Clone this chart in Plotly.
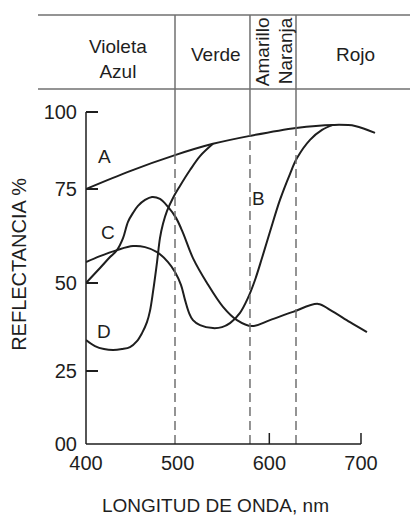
import numpy as np
import plotly.graph_objects as go

# ---------------- data ----------------
# wavelength (nm) / reflectance (%)
wl_A = [400, 448, 497.1, 538.5, 578.9, 629.1, 669.5, 693.5, 715.3]
ref_A = [76.8, 82.2, 87.0, 90.4, 92.8, 95.2, 96.1, 95.8, 93.7]

wl_B = [400, 415.3, 433.8, 451.3, 464.4, 477.5, 489.5, 497.1, 503.6, 508.0, 512.4,
        516.7, 524.4, 538.5, 548.4, 557.1, 568.0, 576.7, 584.4, 592.0, 600.7, 611.6,
        622.5, 630.2, 644.4, 657.5, 669.5]
ref_B = [54.8, 56.6, 58.4, 59.6, 59.3, 57.8, 54.8, 51.8, 47.9, 43.4, 39.5,
         37.3, 35.8, 34.9, 35.2, 36.4, 39.5, 44.0, 49.4, 56.0, 63.9, 73.5,
         81.3, 86.1, 91.6, 94.6, 96.1]

wl_C = [400, 415.3, 426.2, 433.8, 440.4, 445.8, 451.3, 456.7, 464.4, 472.0, 480.7,
        489.5, 498.2, 505.8, 516.7, 532.0, 549.5, 564.7, 581.1, 600.7, 625.8, 653.1,
        666.2, 688.0, 706.5]
ref_C = [48.5, 53.0, 56.3, 58.4, 62.0, 66.9, 69.6, 71.7, 73.5, 74.4, 73.8,
         71.4, 68.1, 63.6, 56.0, 48.5, 41.3, 37.3, 35.5, 37.3, 39.8, 42.2,
         40.4, 36.7, 33.7]

wl_D = [400, 409.8, 419.6, 429.5, 439.3, 448.0, 455.6, 461.1, 466.5, 469.8, 473.1,
        477.5, 480.7, 484.0, 488.4, 494.9, 502.5, 513.5, 524.4, 538.5]
ref_D = [31.3, 29.5, 28.6, 28.3, 28.6, 29.2, 31.0, 33.4, 36.7, 40.1, 45.8,
         54.8, 62.0, 66.3, 70.2, 74.1, 77.7, 82.5, 86.7, 90.4]

curve_names = ["A", "B", "C", "D"]
label_wl = [420.7, 588.7, 424.0, 419.6]
label_ref = [86.7, 73.8, 63.6, 34.0]

# colour band boundaries (nm) and names
band_edges = [497.1, 578.9, 629.1]
band_names = ["Violeta<br>Azul", "Verde", "Amarillo", "Naranja", "Rojo"]
band_name_wl = [434.9, 541.3, 592.0, 617.1, 693.5]

# axis ticks (as drawn)
x_tick_vals = [400, 500, 600, 700]
x_tick_marks = [600, 700]
y_tick_vals = [0, 22.0, 48.5, 76.8, 100]
y_tick_text = ["00", "25", "50", "75", "100"]

x_title = "LONGITUD DE ONDA, nm"
y_title = "REFLECTANCIA %"

# ---------------- figure ----------------
INK = "#1e1e1e"
GREY = "#707070"
FONT = "Liberation Sans, Arial, sans-serif"

fig = go.Figure()
for wl, rf in [(wl_A, ref_A), (wl_B, ref_B), (wl_C, ref_C), (wl_D, ref_D)]:
    fig.add_trace(go.Scatter(x=wl, y=rf, mode="lines",
                             line=dict(color=INK, width=2, shape="spline", smoothing=1.0),
                             hoverinfo="skip", showlegend=False))

Y_TOP = 129.2       # top of plotting region (top of header band)
HEADER_LOW = 106.9  # lower rule of header band
PLOT_H = 429        # px height of plotting region

shapes = []
# band boundaries: solid above curve A, dashed below
for e in band_edges:
    ya = float(np.interp(e, wl_A, ref_A))
    shapes.append(dict(type="line", xref="x", yref="y", x0=e, x1=e, y0=ya, y1=Y_TOP,
                       line=dict(color=GREY, width=1.5)))
    shapes.append(dict(type="line", xref="x", yref="y", x0=e, x1=e, y0=0, y1=ya,
                       line=dict(color=GREY, width=1.5, dash="9px,5px")))
# header rules
shapes.append(dict(type="line", xref="paper", yref="paper", x0=-0.1446, x1=1.05, y0=1, y1=1,
                   line=dict(color=GREY, width=1.5)))
shapes.append(dict(type="line", xref="paper", yref="y", x0=-0.1446, x1=1.05,
                   y0=HEADER_LOW, y1=HEADER_LOW, line=dict(color=GREY, width=1.5)))
# axis lines
shapes.append(dict(type="line", xref="paper", yref="y", x0=0, x1=0, y0=0, y1=100,
                   line=dict(color=INK, width=1.5)))
shapes.append(dict(type="line", xref="x", yref="paper", x0=400, x1=700, y0=0, y1=0,
                   line=dict(color=INK, width=1.5)))
# x tick marks (inside)
for v in x_tick_marks:
    shapes.append(dict(type="line", xref="x", yref="paper", x0=v, x1=v, y0=0,
                       y1=11 / PLOT_H, line=dict(color=INK, width=1.5)))

annotations = []
for n, x, y in zip(curve_names, label_wl, label_ref):
    annotations.append(dict(x=x, y=y, xref="x", yref="y", text=n, showarrow=False,
                            xanchor="center", yanchor="middle",
                            font=dict(size=19, color=INK, family=FONT)))
for n, x in zip(band_names, band_name_wl):
    rot = -90 if n in ("Amarillo", "Naranja") else 0
    yy = 118.3 if rot else (116.1 if "<br>" in n else 117.3)
    annotations.append(dict(x=x, y=yy, xref="x", yref="y", text=n, showarrow=False,
                            xanchor="center", yanchor="middle", textangle=rot,
                            font=dict(size=19, color=INK, family=FONT)))
annotations.append(dict(x=0.39, y=-61 / PLOT_H, xref="paper", yref="paper", text=x_title,
                        showarrow=False, xanchor="center", yanchor="middle",
                        font=dict(size=19, color=INK, family=FONT)))
annotations.append(dict(x=-0.2003, y=54.1, xref="paper", yref="y", text=y_title,
                        showarrow=False, textangle=-90, xanchor="center", yanchor="middle",
                        font=dict(size=20, color=INK, family=FONT)))

fig.update_layout(
    width=418, height=516,
    margin=dict(l=78, r=8, t=7, b=80, pad=0),
    paper_bgcolor="white", plot_bgcolor="white",
    font=dict(family=FONT, color=INK),
    shapes=shapes, annotations=annotations,
    xaxis=dict(range=[400, 762.2], showgrid=False, zeroline=False, showline=False,
               tickvals=x_tick_vals, ticks="",
               tickfont=dict(size=20, color=INK, family=FONT),
               ticklabelstandoff=5),
    yaxis=dict(range=[0, Y_TOP], showgrid=False, zeroline=False, showline=False,
               tickvals=y_tick_vals, ticktext=y_tick_text, ticks="inside", ticklen=12,
               tickwidth=1.5, tickcolor=INK,
               tickfont=dict(size=20, color=INK, family=FONT), ticklabelstandoff=8),
)

fig.write_html("out.html")
